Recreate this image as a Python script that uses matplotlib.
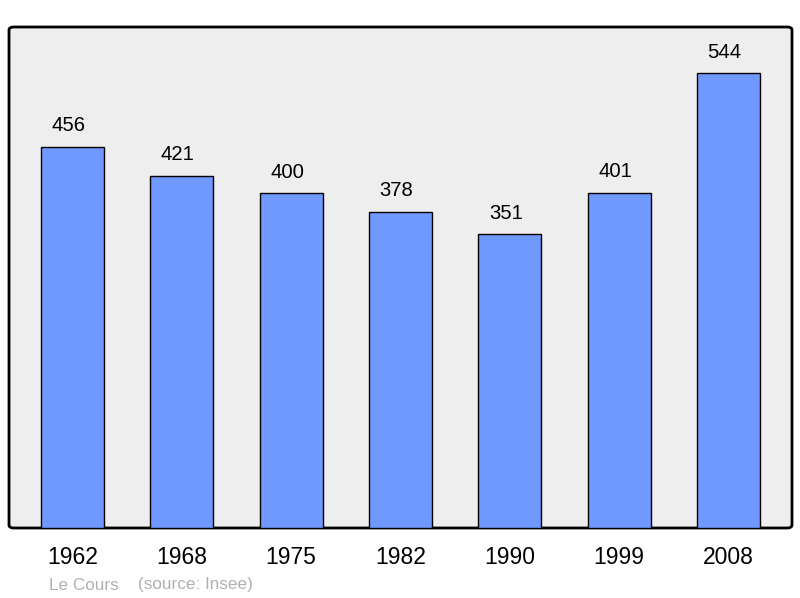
import matplotlib.pyplot as plt
from matplotlib.patches import FancyBboxPatch

years = ["1962", "1968", "1975", "1982", "1990", "1999", "2008"]
population = [456, 421, 400, 378, 351, 401, 544]

plt.rcParams['font.family'] = ['Liberation Sans', 'DejaVu Sans']

fig = plt.figure(figsize=(8, 5.98), dpi=100)
ax = fig.add_axes([9 / 800, 70 / 598, 783 / 800, 501 / 598])
ax.set_facecolor('none')

# rounded frame behind the bars
frame = FancyBboxPatch((0, 0), 1, 1, boxstyle="round,pad=0,rounding_size=0.006",
                       transform=ax.transAxes, facecolor='#eeeeee',
                       edgecolor='black', linewidth=2, zorder=0, clip_on=False)
ax.add_patch(frame)

x = range(len(years))
ax.bar(x, population, width=0.578, color='#7099ff', edgecolor='black',
       linewidth=1, zorder=2)

# value labels sit a little left of the bar centre in the original
for i, v in enumerate(population):
    ax.annotate(str(v), (i, v), xytext=(-4, 21), textcoords='offset pixels',
                ha='center', va='center', fontsize=14.6, zorder=3)

ax.set_xlim(-0.58, 6.58)
ax.set_ylim(0, 599)
for s in ax.spines.values():
    s.set_visible(False)
ax.set_yticks([])
ax.set_xticks(list(x))
ax.set_xticklabels(years, fontsize=16.5)
ax.tick_params(axis='x', length=0, pad=13)

fig.text(49 / 800, 1 - 585 / 598, "Le Cours", fontsize=12.3, color='#b0b0b0',
         va='center', ha='left')
fig.text(138 / 800, 1 - 585 / 598, "(source: Insee)", fontsize=12.3, color='#b0b0b0',
         va='center', ha='left')

fig.savefig("out.png", dpi=100)
